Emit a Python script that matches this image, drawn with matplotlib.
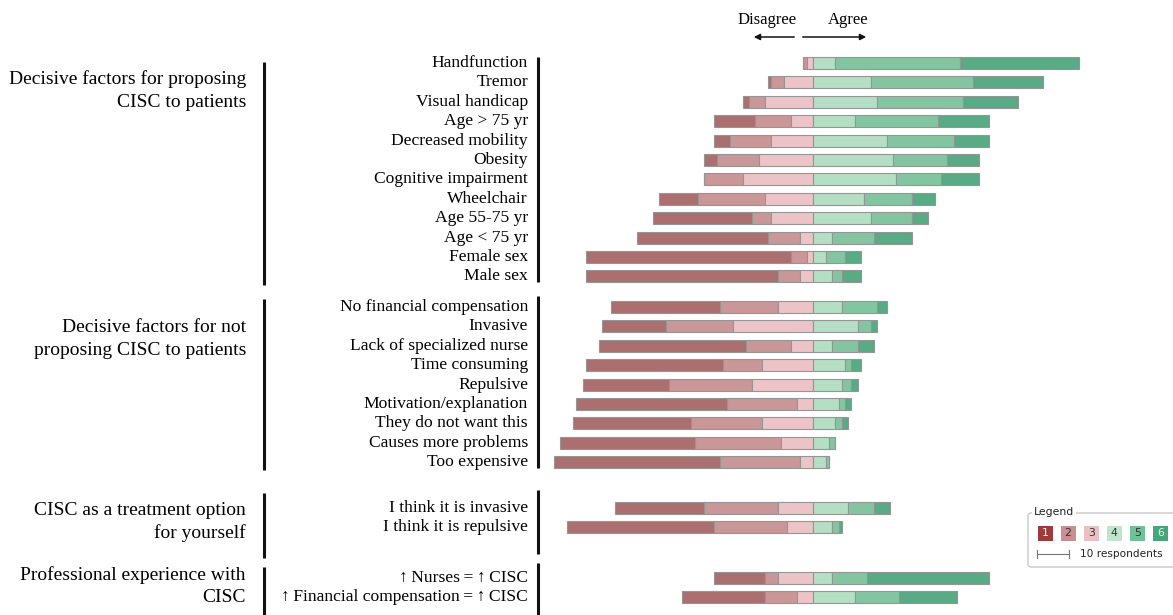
import numpy as np
import matplotlib.pyplot as plt
from matplotlib.patches import FancyBboxPatch, Rectangle

# Respondents per answer (1 = strongly disagree ... 6 = strongly agree)
proposing_labels = ["Handfunction", "Tremor", "Visual handicap", "Age > 75 yr",
                    "Decreased mobility", "Obesity", "Cognitive impairment", "Wheelchair",
                    "Age 55-75 yr", "Age < 75 yr", "Female sex", "Male sex"]
proposing_counts = [[0, 1, 2, 7, 39, 37], [1, 4, 9, 18, 32, 22], [2, 5, 15, 20, 27, 17],
                    [13, 11, 7, 13, 26, 16], [5, 13, 13, 23, 21, 11], [4, 13, 17, 25, 17, 10],
                    [0, 12, 22, 26, 14, 12], [12, 21, 15, 16, 15, 7], [31, 6, 13, 18, 13, 5],
                    [41, 10, 4, 6, 13, 12], [64, 5, 2, 4, 6, 5], [60, 7, 4, 6, 3, 6]]

not_proposing_labels = ["No financial compensation", "Invasive", "Lack of specialized nurse",
                        "Time consuming", "Repulsive", "Motivation/explanation",
                        "They do not want this", "Causes more problems", "Too expensive"]
not_proposing_counts = [[34, 18, 11, 9, 11, 3], [20, 21, 25, 14, 4, 2], [46, 14, 7, 6, 8, 5],
                        [43, 12, 16, 10, 2, 3], [27, 26, 19, 9, 3, 2], [47, 22, 5, 8, 2, 2],
                        [37, 22, 16, 7, 2, 2], [42, 27, 10, 5, 2, 0], [52, 25, 4, 4, 1, 0]]

self_labels = ["I think it is invasive", "I think it is repulsive"]
self_counts = [[28, 23, 11, 11, 8, 5], [46, 23, 8, 6, 2, 1]]

experience_labels = ["\u2191\u2009Nurses\u2009=\u2009\u2191\u2009CISC",
                     "\u2191\u2009Financial compensation\u2009=\u2009\u2191\u2009CISC"]
experience_counts = [[16, 4, 11, 6, 11, 38], [26, 10, 5, 13, 14, 18]]

group_titles = ["Decisive factors for proposing\nCISC to patients",
                "Decisive factors for not\nproposing CISC to patients",
                "CISC as a treatment option\nfor yourself",
                "Professional experience with\nCISC"]
answer_levels = ["1", "2", "3", "4", "5", "6"]

# colours / layout
bar_colors = ['#ab6f6f', '#c99798', '#ecc4c7', '#b5dfc4', '#84c5a1', '#58ab84']
key_colors = ['#a03a3a', '#c98f92', '#e9c1c4', '#bfe6cc', '#70c196', '#46a67a']
key_text = ['white', '#333333', '#333333', '#333333', '#333333', '#e8f5ee']
SERIF = ['Liberation Serif', 'DejaVu Serif']
W, H = 1173, 615
PX, X0 = 3.2, 813      # pixels per respondent, position of the neutral line
ROW, Y0 = 19.4, 63     # row pitch, first row centre

groups = [(proposing_labels, proposing_counts), (not_proposing_labels, not_proposing_counts),
          (self_labels, self_counts), (experience_labels, experience_counts)]
group_start = [0, 12.58, 22.94, 26.55]
item_spans = [(57, 282), (296, 468), (490, 554), (563, 615)]
title_spans = [(62, 285), (299, 470), (493, 558), (567, 615)]
title_mid = [90.5, 339, 522, 586]

fig = plt.figure(figsize=(W / 100, H / 100), dpi=100)
ax = fig.add_axes([0, 0, 1, 1])
ax.set_xlim(-X0 / PX, (W - X0) / PX)
ax.set_ylim((H - Y0) / ROW, -Y0 / ROW)
ax.axis('off')

lay = fig.add_axes([0, 0, 1, 1])
lay.set_xlim(0, W)
lay.set_ylim(H, 0)
lay.axis('off')

for g, (labels, counts) in enumerate(groups):
    counts = np.array(counts)
    ypos = group_start[g] + np.arange(len(labels))
    left = -counts[:, :3].sum(axis=1)
    for k in range(6):
        ax.barh(ypos, counts[:, k], left=left, height=0.62, color=bar_colors[k],
                edgecolor='#959595', linewidth=0.8)
        left = left + counts[:, k]
    for y, lab in zip(ypos, labels):
        lay.text(528, Y0 + y * ROW, lab, ha='right', va='center', fontsize=12.6, family=SERIF)
    lay.plot([538, 538], item_spans[g], color='#111111', lw=2.2, solid_capstyle='butt')
    lay.plot([264, 264], title_spans[g], color='#111111', lw=2.2, solid_capstyle='butt')
    lay.text(246, title_mid[g], group_titles[g], ha='right', va='center', fontsize=14,
             family=SERIF, linespacing=1.42)

# direction header
lay.text(767, 20, "Disagree", ha='center', va='center', fontsize=12, family=SERIF)
lay.text(848, 20, "Agree", ha='center', va='center', fontsize=12, family=SERIF)
lay.annotate('', xy=(751, 37), xytext=(797, 37),
             arrowprops=dict(arrowstyle='-|>', color='#111111', lw=1.1, mutation_scale=9))
lay.annotate('', xy=(869, 37), xytext=(800, 37),
             arrowprops=dict(arrowstyle='-|>', color='#111111', lw=1.1, mutation_scale=9))

# key box
lay.add_patch(FancyBboxPatch((1028, 513), 152, 54, boxstyle='round,pad=0,rounding_size=3',
                             fc='none', ec='#bbbbbb', lw=0.8))
lay.text(1034, 512, "Legend", ha='left', va='center', fontsize=7.8, color='#222222',
         bbox=dict(fc='white', ec='none', pad=1.5))
for k, lev in enumerate(answer_levels):
    cx = 1045 + k * 23.1
    lay.add_patch(Rectangle((cx - 7.5, 526), 15, 15, fc=key_colors[k], ec='none'))
    lay.text(cx, 533.5, lev, ha='center', va='center', fontsize=7.8, color=key_text[k])
sx = (1037 - X0) / PX
sy = (554 - Y0) / ROW
ax.plot([sx, sx + 10], [sy, sy], color='#777777', lw=0.8)
ax.plot([sx, sx], [sy - 0.2, sy + 0.2], color='#777777', lw=0.8)
ax.plot([sx + 10, sx + 10], [sy - 0.2, sy + 0.2], color='#777777', lw=0.8)
lay.text(1080, 554, "10 respondents", ha='left', va='center', fontsize=7.6, color='#222222')

fig.savefig('out.png', dpi=100)
